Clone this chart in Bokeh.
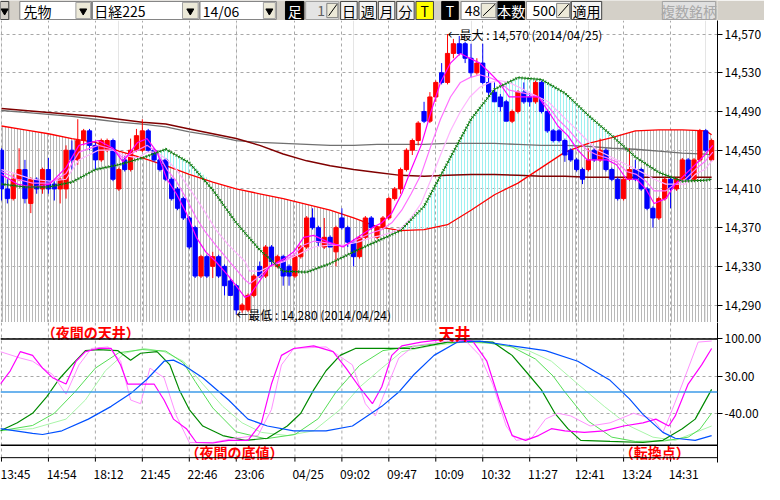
import numpy as np
from bokeh.plotting import figure
from bokeh.layouts import column
from bokeh.models import Range1d, FixedTicker, NumeralTickFormatter, Grid, Span
from bokeh.embed import file_html
from bokeh.resources import INLINE
from bokeh.core.properties import value

JP = value("Noto Sans CJK JP")

# ---------------- candle data (bar index 0..121) ----------------
opens = [14450, 14410, 14400, 14420, 14430, 14395, 14420, 14410, 14430, 14415,
         14410, 14410, 14450, 14440, 14460, 14470, 14455, 14440, 14450, 14460,
         14410, 14440, 14430, 14450, 14450, 14470, 14450, 14440, 14440, 14420,
         14410, 14400, 14380, 14370, 14320, 14340, 14330, 14340, 14330, 14315,
         14310, 14285, 14285, 14300, 14330, 14320, 14350, 14330, 14340, 14330,
         14320, 14340, 14350, 14380, 14370, 14350, 14360, 14345, 14380, 14370,
         14355, 14340, 14360, 14380, 14360, 14370, 14380, 14400, 14410, 14430,
         14450, 14460, 14490, 14480, 14505, 14530, 14520, 14550, 14560, 14560,
         14545, 14530, 14540, 14520, 14510, 14505, 14500, 14480, 14490, 14510,
         14505, 14500, 14520, 14490, 14470, 14470, 14460, 14450, 14440, 14430,
         14430, 14450, 14440, 14450, 14430, 14420, 14400, 14420, 14430, 14430,
         14410, 14390, 14380, 14400, 14420, 14410, 14420, 14440, 14420, 14440,
         14470, 14440]
highs = [14452, 14420, 14425, 14452, 14440, 14422, 14422, 14432, 14442, 14418,
         14422, 14455, 14460, 14482, 14472, 14472, 14458, 14462, 14462, 14462,
         14432, 14445, 14462, 14472, 14482, 14472, 14452, 14442, 14442, 14422,
         14412, 14402, 14382, 14372, 14342, 14342, 14345, 14342, 14332, 14318,
         14312, 14292, 14302, 14322, 14335, 14352, 14352, 14342, 14342, 14332,
         14342, 14352, 14382, 14390, 14372, 14380, 14362, 14372, 14390, 14372,
         14358, 14362, 14382, 14382, 14372, 14382, 14402, 14412, 14432, 14452,
         14462, 14480, 14500, 14510, 14522, 14540, 14570, 14565, 14568, 14562,
         14560, 14545, 14560, 14530, 14520, 14508, 14502, 14492, 14512, 14520,
         14510, 14522, 14522, 14492, 14472, 14472, 14462, 14452, 14442, 14432,
         14452, 14452, 14462, 14452, 14432, 14422, 14422, 14452, 14440, 14432,
         14412, 14392, 14402, 14422, 14422, 14422, 14442, 14442, 14442, 14472,
         14472, 14462]
lows = [14398, 14395, 14398, 14418, 14395, 14385, 14405, 14405, 14405, 14398,
        14395, 14400, 14430, 14435, 14455, 14450, 14430, 14438, 14448, 14418,
        14408, 14428, 14428, 14448, 14448, 14448, 14438, 14428, 14418, 14398,
        14388, 14378, 14348, 14318, 14318, 14318, 14318, 14318, 14300, 14300,
        14280, 14282, 14283, 14298, 14318, 14318, 14330, 14328, 14310, 14310,
        14318, 14338, 14348, 14368, 14350, 14348, 14350, 14330, 14368, 14350,
        14330, 14338, 14358, 14368, 14358, 14368, 14378, 14398, 14405, 14428,
        14445, 14455, 14478, 14478, 14500, 14518, 14518, 14545, 14548, 14540,
        14525, 14528, 14518, 14505, 14500, 14490, 14480, 14478, 14488, 14498,
        14495, 14498, 14488, 14468, 14458, 14458, 14438, 14438, 14428, 14415,
        14428, 14438, 14438, 14428, 14418, 14398, 14398, 14418, 14418, 14408,
        14388, 14370, 14378, 14398, 14390, 14408, 14418, 14418, 14418, 14438,
        14448, 14438]
closes = [14410, 14400, 14420, 14430, 14400, 14420, 14410, 14430, 14410, 14410,
          14420, 14450, 14440, 14460, 14470, 14455, 14440, 14460, 14460, 14420,
          14430, 14430, 14450, 14465, 14470, 14450, 14440, 14430, 14420, 14400,
          14390, 14380, 14350, 14320, 14340, 14320, 14340, 14320, 14310, 14300,
          14285, 14290, 14300, 14320, 14320, 14350, 14335, 14340, 14320, 14320,
          14340, 14350, 14380, 14370, 14355, 14360, 14350, 14370, 14370, 14355,
          14340, 14360, 14380, 14370, 14370, 14380, 14400, 14410, 14430, 14450,
          14460, 14478, 14480, 14505, 14520, 14520, 14550, 14560, 14550, 14545,
          14530, 14540, 14520, 14510, 14500, 14495, 14480, 14490, 14510, 14500,
          14500, 14520, 14490, 14470, 14460, 14460, 14445, 14440, 14430, 14420,
          14440, 14440, 14450, 14430, 14420, 14400, 14420, 14430, 14420, 14410,
          14390, 14380, 14400, 14420, 14410, 14420, 14440, 14420, 14440, 14470,
          14450, 14460]

# ---------------- pink moving-average ribbon (read at sample bars) ----------------
ribbon_x = [0, 2.7, 5.3, 8.2, 11, 13.2, 16.5, 19, 20.7, 23.2,
            24.8, 26.5, 28.2, 29.8, 31.5, 33.2, 34.8, 36.5, 38.7, 41.5,
            42.3, 44, 45.7, 48.2, 49.8, 51.5, 53.2, 55.7, 58.2, 60.7,
            63.2, 64.8, 66.5, 68.2, 69.8, 71.5, 73.2, 74.8, 76.5, 78.2,
            79.8, 81.5, 83.2, 84.8, 86.5, 88.2, 89.8, 91.5, 93.2, 94.8,
            96.5, 98.2, 99.8, 101.5, 103.2, 104.8, 106.5, 108.2, 109.8, 111.2,
            113.2, 114.8, 116.5, 118.2, 119.8, 121.2]
ribbon_fast = [14425, 14415, 14412, 14415, 14432, 14455, 14460, 14452, 14438, 14458,
               14462, 14448, 14420, 14405, 14385, 14360, 14345, 14335, 14320, 14298,
               14300, 14315, 14330, 14338, 14345, 14360, 14362, 14355, 14350, 14360,
               14370, 14375, 14385, 14405, 14430, 14455, 14490, 14520, 14540, 14550,
               14545, 14540, 14530, 14520, 14505, 14505, 14505, 14505, 14490, 14475,
               14465, 14450, 14440, 14440, 14440, 14435, 14420, 14420, 14410, 14395,
               14400, 14415, 14425, 14435, 14445, 14455]
ribbon_mid = [14428, 14420, 14416, 14416, 14426, 14448, 14455, 14451, 14442, 14450,
              14455, 14448, 14430, 14418, 14400, 14380, 14365, 14352, 14336, 14316,
              14312, 14320, 14330, 14336, 14342, 14352, 14356, 14354, 14351, 14358,
              14365, 14368, 14375, 14388, 14405, 14425, 14455, 14482, 14505, 14520,
              14525, 14528, 14525, 14521, 14512, 14510, 14508, 14505, 14495, 14482,
              14472, 14460, 14450, 14445, 14442, 14438, 14428, 14425, 14418, 14408,
              14408, 14415, 14420, 14430, 14438, 14448]
ribbon_slow = [14430, 14425, 14420, 14418, 14420, 14440, 14450, 14450, 14445, 14442,
               14448, 14448, 14440, 14430, 14415, 14400, 14385, 14368, 14352, 14335,
               14325, 14325, 14330, 14335, 14340, 14345, 14350, 14352, 14352, 14355,
               14360, 14362, 14365, 14370, 14380, 14395, 14420, 14445, 14470, 14490,
               14505, 14515, 14520, 14522, 14520, 14515, 14510, 14505, 14500, 14490,
               14480, 14470, 14460, 14450, 14445, 14440, 14435, 14430, 14425, 14420,
               14415, 14415, 14415, 14425, 14430, 14440]

# ---------------- slow lines (read every 4 bars) ----------------
ma_x = [0, 4, 8, 12, 16, 20, 24, 28, 32, 36, 40, 44, 48, 52, 56, 60,
        64, 68, 72, 76, 80, 84, 88, 92, 96, 100, 104, 108, 112, 116, 120, 121]
green_ma = [14415, 14412, 14412, 14417, 14430, 14435, 14442, 14451,
            14437, 14409, 14375, 14347, 14325, 14324, 14333, 14345,
            14356, 14367, 14392, 14437, 14482, 14513, 14525, 14523,
            14509, 14486, 14465, 14443, 14427, 14418, 14419, 14420]
red_ma = [14475, 14471, 14467, 14462, 14458, 14449, 14442, 14434,
          14425, 14417, 14410, 14405, 14400, 14394, 14388, 14380,
          14371, 14367, 14368, 14373, 14388, 14404, 14416, 14432,
          14448, 14457, 14463, 14470, 14471, 14471, 14470, 14466]
maroon_ma = [14493, 14491, 14489, 14487, 14485, 14482, 14479, 14477,
             14472, 14467, 14462, 14455, 14446, 14439, 14434, 14430,
             14427, 14424, 14423, 14424, 14425, 14425, 14424, 14423,
             14423, 14422, 14422, 14422, 14422, 14422, 14422, 14422]
grey_ma = [14491, 14489, 14487, 14485, 14482, 14479, 14477, 14474,
           14469, 14465, 14460, 14458, 14457, 14456, 14455, 14455,
           14456, 14456, 14456, 14457, 14457, 14457, 14456, 14455,
           14455, 14454, 14452, 14451, 14449, 14447, 14446, 14445]

# ---------------- oscillator series ----------------
blue_x = [-0.2, 5.3, 7, 10.3, 14.8, 18.7, 22, 24.8, 27.7, 29.3, 31, 34.3, 38.7, 42, 45.3, 49.8, 55.3,
          59.8, 64.8, 67.7, 70.3, 73.7, 77.7, 81.5, 87, 92.7, 98.2, 103.7, 107, 109.3, 112.7, 114.8, 118.2, 121]
blue_v = [-69, -78, -80, -73, -51, -27, -3, 24, 58, 60, 51, 27, -15, -51, -64, -73, -73,
          -64, -27, 0, 33, 69, 94, 96, 87, 78, 58, 22, -13, -42, -76, -87, -91, -82]
dg_x = [-0.2, 2.7, 5.3, 7.7, 9.8, 12, 14.3, 16.5, 19.8, 22, 23.7, 26.5, 28.7, 30.3, 32, 34.3, 37.7, 41.5,
        45.3, 48.7, 51, 53.2, 55.3, 57.7, 60.3, 64.8, 70.3, 76, 79.8, 83.7, 87, 89.8, 92, 94.3, 96.5,
        98.7, 103.7, 109.3, 112.7, 116, 118.2, 121]
dg_v = [-73, -58, -40, -9, 24, 51, 78, 80, 78, 60, 73, 76, 51, 4, -33, -64, -82, -91,
        -87, -64, -40, 4, 40, 69, 82, 82, 82, 94, 96, 94, 69, 33, 4, -40, -69,
        -91, -93, -95, -91, -69, -51, 5]
mg_x = [-0.2, 5.3, 9, 12.5, 16, 20, 24, 28, 31, 33, 36, 40, 45, 50, 54, 57, 61, 65, 70, 76, 82, 87,
        91, 94, 96, 100, 104, 108, 113, 117, 119, 121]
mg_v = [-73, -63, -40, 0, 45, 74, 80, 77, 55, 20, -30, -75, -88, -80, -50, 0, 50, 78, 86, 93, 94, 85,
        62, 30, 0, -55, -85, -93, -92, -85, -70, -40]
lg_x = [-0.2, 5.3, 11, 14.3, 17.7, 21, 24.3, 27.7, 31, 34.3, 37.7, 41, 44.3, 48.7, 53.2, 57.7, 61,
        64.8, 68.2, 73.2, 78.7, 84.3, 89.8, 93.7, 98.2, 102.7, 107, 111, 114.8, 121]
lg_v = [-73, -69, -51, -15, 40, 73, 82, 76, 58, 15, -27, -58, -76, -82, -73, -33, 9,
        45, 76, 87, 94, 91, 78, 58, 15, -27, -64, -85, -91, -64]
mag_x = [-0.2, 1.5, 3.2, 5.3, 7, 8.7, 11, 12.7, 14.3, 16.5, 18.7, 20.3, 21.5, 23.7, 26, 27.7, 29.3,
         31.5, 33.2, 36, 38.7, 42, 44.3, 46, 47.7, 49.8, 53.2, 56.5, 58.7, 61, 63.2, 64.8, 66.5, 68.2,
         71.5, 76, 80.3, 82.7, 84.8, 87, 89.3, 91.5, 93.7, 96, 99.3, 102.7, 106, 109.3, 111.5, 113.7,
         114.8, 117, 119.3, 121]
mag_v = [15, 40, 76, 69, 45, 27, 15, 58, 76, 82, 82, 51, 15, 15, 15, -15, -51,
         -69, -95, -96, -91, -91, -58, 15, 69, 82, 87, 76, 45, 9, -22, 10, 69, 87,
         94, 100, 96, 58, -15, -82, -91, -82, -69, -73, -76, -73, -64, -58, -51, -64,
         -45, 15, 51, 82]
lp_x = [-0.2, 3.2, 5.3, 8.7, 11, 13.2, 15.3, 18.2, 20.3, 22, 23.7, 25.3, 27.7, 29.8, 32, 36, 39.8,
        43.7, 46, 47.7, 49.8, 55.3, 59.8, 62, 63.7, 64.8, 67.7, 70.3, 76, 79.3, 81.5, 83.7, 86, 87.7,
        90.3, 92.7, 94.8, 97, 100.3, 103.7, 107.7, 111, 112.7, 114.3, 116, 118.7, 121]
lp_v = [76, 64, 58, 33, -4, 51, 82, 85, 58, -15, -22, 45, 27, -45, -95, -95, -87,
        -82, -33, 51, 82, 85, 51, -22, -45, -15, 64, 87, 96, 94, 69, 15, -64, -91,
        -87, -51, -40, -45, -64, -58, -40, -51, -76, -33, 15, 94, 96]

# ---------------- axes ----------------
tick_bars = [0, 8, 16, 24, 32, 40, 50, 58, 66, 74, 82, 90, 98, 106, 114]
tick_labels = ["13:45", "14:54", "18:12", "21:45", "22:46", "23:06", "04/25", "09:02",
               "09:47", "10:09", "10:32", "11:27", "12:41", "13:24", "14:31"]
price_ticks = [14290, 14330, 14370, 14410, 14450, 14490, 14530, 14570]
osc_ticks = [100, 30, -40]

# ---------------- layout constants ----------------
W = 764
AXIS_W = 46
GRID = "#a8a8a8"
xr = Range1d(-1 / 6, 122)


def base(height, **kw):
    p = figure(width=W, height=height, toolbar_location=None, output_backend="svg",
               min_border_left=0, min_border_top=0, min_border_bottom=0,
               min_border_right=AXIS_W, background_fill_color="white",
               border_fill_color="white", outline_line_color=None, **kw)
    return p


def style_right_axis(ax, ticks, fmt):
    ax.ticker = FixedTicker(ticks=ticks)
    ax.formatter = NumeralTickFormatter(format=fmt)
    ax.axis_line_color = "black"
    ax.major_tick_line_color = "black"
    ax.major_tick_out = 5
    ax.major_tick_in = 0
    ax.minor_tick_line_color = None
    ax.major_label_standoff = 2
    ax.major_label_text_font = "Noto Sans CJK JP"
    ax.major_label_text_font_size = "12px"
    ax.major_label_text_color = "black"


# ================= toolbar strip =================
tb = figure(width=W, height=20, x_range=Range1d(0, 780), y_range=Range1d(21, 0),
            x_axis_location=None, y_axis_location=None, toolbar_location=None,
            output_backend="svg", min_border=0, background_fill_color="#d4d0c8",
            border_fill_color="#d4d0c8", outline_line_color=None)
tb.grid.visible = False

boxes = [  # left, right, top, bottom, fill, line
    (0, 9, 1, 20, "#d4d0c8", "#404040"),
    (21, 99, 1, 20, "white", "#808080"), (100, 216, 1, 20, "white", "#808080"),
    (217, 300, 1, 20, "white", "#808080"),
    (82, 98, 2, 19, "#ece9d8", "#a0a0a0"), (198, 215, 2, 19, "#ece9d8", "#a0a0a0"),
    (286, 299, 2, 19, "#ece9d8", "#a0a0a0"),
    (310, 330, 1, 20, "black", "black"), (480, 498, 1, 20, "black", "black"),
    (541, 570, 1, 20, "black", "black"),
    (332, 368, 1, 20, "#e4e4e4", "#a0a0a0"),
    (501, 540, 1, 20, "white", "#808080"), (572, 620, 1, 20, "white", "#808080"),
    (355, 367, 3, 18, "#ece9d8", "#808080"), (523, 539, 3, 18, "#ece9d8", "#808080"),
    (605, 619, 3, 18, "#ece9d8", "#808080"),
    (370, 388, 1, 20, "#f4f4f4", "#404040"), (390, 409, 1, 20, "#f4f4f4", "#404040"),
    (411, 429, 1, 20, "#f4f4f4", "#404040"), (431, 450, 1, 20, "#f4f4f4", "#404040"),
    (452, 471, 1, 20, "#ffff00", "#404040"), (621, 654, 1, 20, "#f4f4f4", "#404040"),
    (720, 778, 1, 20, "#e0e0e0", "#a0a0a0"),
]
tb.quad(left=[b[0] for b in boxes], right=[b[1] for b in boxes],
        top=[b[2] for b in boxes], bottom=[b[3] for b in boxes],
        fill_color=[b[4] for b in boxes], line_color=[b[5] for b in boxes], line_width=1)
# spinner diagonals
tb.segment(x0=[357, 525, 607], y0=[16, 16, 16], x1=[366, 538, 618], y1=[4, 4, 4],
           line_color="black", line_width=1)
tb.scatter(x=[4.5, 90, 206.5, 292.5], y=[11, 11, 11, 11], marker="inverted_triangle",
           size=7, color="black")
left_txt = [(25, "先物", "black"), (102, "日経225", "black"), (220, "14/06", "black")]
tb.text(x=[t[0] for t in left_txt], y=[11] * 3, text=[t[1] for t in left_txt],
        text_color="black", text_font=JP, text_font_size="14px",
        text_align="left", text_baseline="middle")
ctr_txt = [(320, "足", "white"), (379, "日", "black"), (399.5, "週", "black"),
           (420, "月", "black"), (440.5, "分", "black"), (461.5, "T", "black"),
           (489, "T", "white"), (555.5, "本数", "white"), (637.5, "適用", "black"),
           (749, "複数銘柄", "#a8a8a8")]
tb.text(x=[t[0] for t in ctr_txt], y=[11] * len(ctr_txt), text=[t[1] for t in ctr_txt],
        text_color=[t[2] for t in ctr_txt], text_font=JP, text_font_size="14px",
        text_align="center", text_baseline="middle")
right_txt = [(353, "1", "#606060"), (522, "48", "black"), (604, "500", "black")]
tb.text(x=[t[0] for t in right_txt], y=[11] * 3, text=[t[1] for t in right_txt],
        text_color=[t[2] for t in right_txt], text_font=JP, text_font_size="14px",
        text_align="right", text_baseline="middle")

# ================= main price panel =================
main = base(302, x_range=xr, y_range=Range1d(14272, 14584),
            x_axis_location=None, y_axis_location="right")
style_right_axis(main.yaxis[0], price_ticks, "0,0")
main.ygrid.grid_line_color = GRID
main.ygrid.grid_line_dash = "3 3"
main.add_layout(Grid(dimension=0, ticker=FixedTicker(ticks=tick_bars),
                     grid_line_color=GRID, grid_line_dash="3 3"))

green_arr = np.array(green_ma)
red_arr = np.array(red_ma)
main.varea(x=ma_x, y1=red_ma, y2=14200, fill_alpha=0, hatch_pattern="vertical_line",
           hatch_color="#b8b8b8", hatch_scale=3, hatch_weight=1)
main.varea(x=ma_x, y1=red_ma, y2=list(np.maximum(green_arr, red_arr)), fill_alpha=0,
           hatch_pattern="vertical_line", hatch_color="#9ef0f0", hatch_scale=3, hatch_weight=1)

main.line(ma_x, grey_ma, line_color="#707070", line_width=1.3)
main.line(ma_x, maroon_ma, line_color="#800000", line_width=1.5)
main.line(ma_x, red_ma, line_color="#ff0000", line_width=1.3)

idx = list(range(len(opens)))
cols = ["#ff0000" if c >= o else "#0000ff" for o, c in zip(opens, closes)]
main.segment(x0=idx, y0=lows, x1=idx, y1=highs, line_color=cols, line_width=1)
main.vbar(x=idx, width=0.72, top=list(np.maximum(opens, closes)),
          bottom=list(np.minimum(opens, closes)), fill_color=cols, line_color=cols)

main.line(ribbon_x, ribbon_slow, line_color="#ffb4ff", line_width=1.2)
main.line(ribbon_x, ribbon_mid, line_color="#ff70ff", line_width=1.2)
main.line(ribbon_x, ribbon_fast, line_color="#ff00ff", line_width=1.2)

main.line(ma_x, green_ma, line_color="#006400", line_width=1)
main.line(ma_x, green_ma, line_color="#1a8a1a", line_width=3, line_dash="1 2")

imax = int(np.argmax(highs))
imin = int(np.argmin(lows))
main.text(x=[imax, imin], y=[highs[imax], lows[imin]],
          text=[f"←最大 : {highs[imax]:,} (2014/04/25)", f"←最低 : {lows[imin]:,} (2014/04/24)"],
          text_color="black", text_font=JP, text_font_size="12px",
          text_align="left", text_baseline="middle")

# ================= oscillator panel =================
OSC_TOP, OSC_BOT, AX_LINE = 130.9, -132.7, -123.6
osc = base(162, x_range=xr, y_range=Range1d(OSC_BOT, OSC_TOP), y_axis_location="right")
osc.min_border_bottom = 22
style_right_axis(osc.yaxis[0], osc_ticks, "0.00")
osc.ygrid.grid_line_color = GRID
osc.ygrid.grid_line_dash = "3 3"
osc.xgrid.visible = False

xa = osc.xaxis[0]
lab_pos = [t + 2.25 for t in tick_bars]
xa.ticker = FixedTicker(ticks=lab_pos)
xa.major_label_overrides = {p: l for p, l in zip(lab_pos, tick_labels)}
xa.axis_line_color = None
xa.major_tick_line_color = None
xa.minor_tick_line_color = None
xa.major_tick_out = 0
xa.major_tick_in = 0
xa.major_label_standoff = 2
xa.major_label_text_font = "Noto Sans CJK JP"
xa.major_label_text_font_size = "12px"
xa.major_label_text_color = "black"

osc.segment(x0=tick_bars, y0=OSC_TOP, x1=tick_bars, y1=AX_LINE,
            line_color=GRID, line_dash="3 3", line_width=1)
osc.add_layout(Span(location=100, dimension="width", line_color="black", line_width=1.5))
osc.add_layout(Span(location=-100, dimension="width", line_color="black", line_width=1.5))
osc.add_layout(Span(location=0, dimension="width", line_color="#3d9be9", line_width=1.5))
osc.add_layout(Span(location=AX_LINE, dimension="width", line_color="black", line_width=1))
osc.segment(x0=tick_bars, y0=AX_LINE, x1=tick_bars, y1=-131, line_color="black", line_width=1)

osc.line(lg_x, lg_v, line_color="#a8f5a8", line_width=1)
osc.line(mg_x, mg_v, line_color="#55dd55", line_width=1)
osc.line(dg_x, dg_v, line_color="#008a00", line_width=1.2)
osc.line(lp_x, lp_v, line_color="#ff90ff", line_width=1)
osc.line(mag_x, mag_v, line_color="#ff00ff", line_width=1.2)
osc.line(blue_x, blue_v, line_color="#0050ff", line_width=1.2)

notes = [(15.2, 112.5, "（夜間の天井）", "14px"), (77.2, 111.0, "天井", "16px"),
         (39.7, -112.7, "（夜間の底値）", "14px"), (111.3, -112.7, "（転換点）", "14px")]
for nx, ny, nt, fs in notes:
    osc.text(x=[nx], y=[ny], text=[nt], text_color="#ff0000", text_font=JP,
             text_font_size=fs, text_font_style="bold", text_align="center",
             text_baseline="middle")

layout = column(tb, main, osc, spacing=0)
open("out.html", "w").write(file_html(layout, INLINE))
